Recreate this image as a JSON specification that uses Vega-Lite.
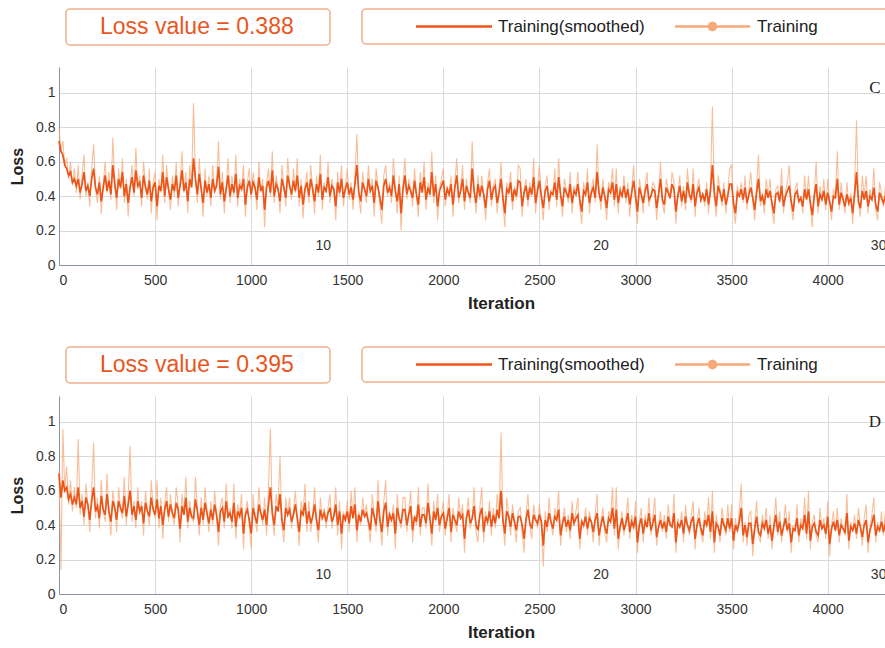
{
"$schema": "https://vega.github.io/schema/vega-lite/v6.json",
"padding": {"left": 9, "top": 8, "right": 0, "bottom": 0},
"background": "white",
"spacing": 35,
"config": {
  "view": {"fill": "#f4f4f4", "stroke": null},
  "font": "Liberation Sans",
  "axis": {"labelFont": "Liberation Sans", "labelFontSize": 14, "labelColor": "#333", "labelOverlap": false, "titleFont": "Liberation Sans", "titleFontWeight": "bold", "titleColor": "#222", "gridColor": "#d9d9d9", "gridWidth": 1, "domainColor": "#8a94a6", "ticks": false, "tickCount": 30},
  "legend": {"strokeColor": "#efae8c", "strokeWidth": 1.5, "cornerRadius": 4, "fillColor": "transparent", "labelFont": "Liberation Sans", "labelLimit": 400}
},
"datasets": {
"c": [
{"i":0,"t":0.80,"s":0.72},{"i":10,"t":0.66,"s":0.66},{"i":20,"t":0.72,"s":0.64},{"i":30,"t":0.58,"s":0.58},{"i":40,"t":0.62,"s":0.56},{"i":50,"t":0.50,"s":0.52},{"i":60,"t":0.60,"s":0.54},{"i":70,"t":0.46,"s":0.48},{"i":80,"t":0.56,"s":0.50},{"i":90,"t":0.42,"s":0.46},
{"i":100,"t":0.58,"s":0.50},{"i":110,"t":0.38,"s":0.42},{"i":120,"t":0.52,"s":0.47},{"i":130,"t":0.64,"s":0.54},{"i":140,"t":0.40,"s":0.43},{"i":150,"t":0.48,"s":0.46},{"i":160,"t":0.34,"s":0.40},{"i":170,"t":0.56,"s":0.50},{"i":180,"t":0.70,"s":0.56},{"i":190,"t":0.44,"s":0.45},
{"i":200,"t":0.36,"s":0.41},{"i":210,"t":0.52,"s":0.48},{"i":220,"t":0.30,"s":0.37},{"i":230,"t":0.46,"s":0.45},{"i":240,"t":0.60,"s":0.52},{"i":250,"t":0.42,"s":0.43},{"i":260,"t":0.54,"s":0.49},{"i":270,"t":0.38,"s":0.41},{"i":280,"t":0.74,"s":0.58},{"i":290,"t":0.48,"s":0.47},
{"i":300,"t":0.32,"s":0.39},{"i":310,"t":0.56,"s":0.50},{"i":320,"t":0.44,"s":0.45},{"i":330,"t":0.62,"s":0.54},{"i":340,"t":0.36,"s":0.40},{"i":350,"t":0.50,"s":0.47},{"i":360,"t":0.28,"s":0.36},{"i":370,"t":0.46,"s":0.45},{"i":380,"t":0.58,"s":0.51},{"i":390,"t":0.40,"s":0.42},
{"i":400,"t":0.68,"s":0.55},{"i":410,"t":0.44,"s":0.46},{"i":420,"t":0.52,"s":0.48},{"i":430,"t":0.34,"s":0.39},{"i":440,"t":0.60,"s":0.52},{"i":450,"t":0.46,"s":0.45},{"i":460,"t":0.38,"s":0.41},{"i":470,"t":0.56,"s":0.49},{"i":480,"t":0.30,"s":0.37},{"i":490,"t":0.48,"s":0.45},
{"i":500,"t":0.54,"s":0.48},{"i":510,"t":0.26,"s":0.34},{"i":520,"t":0.50,"s":0.46},{"i":530,"t":0.42,"s":0.43},{"i":540,"t":0.64,"s":0.54},{"i":550,"t":0.36,"s":0.40},{"i":560,"t":0.58,"s":0.51},{"i":570,"t":0.44,"s":0.44},{"i":580,"t":0.32,"s":0.38},{"i":590,"t":0.52,"s":0.47},
{"i":600,"t":0.40,"s":0.43},{"i":610,"t":0.60,"s":0.52},{"i":620,"t":0.34,"s":0.39},{"i":630,"t":0.48,"s":0.46},{"i":640,"t":0.66,"s":0.55},{"i":650,"t":0.42,"s":0.43},{"i":660,"t":0.54,"s":0.48},{"i":670,"t":0.30,"s":0.37},{"i":680,"t":0.58,"s":0.50},{"i":690,"t":0.46,"s":0.45},
{"i":700,"t":0.94,"s":0.62},{"i":710,"t":0.50,"s":0.50},{"i":720,"t":0.36,"s":0.41},{"i":730,"t":0.62,"s":0.53},{"i":740,"t":0.44,"s":0.44},{"i":750,"t":0.28,"s":0.36},{"i":760,"t":0.56,"s":0.49},{"i":770,"t":0.40,"s":0.42},{"i":780,"t":0.52,"s":0.47},{"i":790,"t":0.34,"s":0.39},
{"i":800,"t":0.58,"s":0.50},{"i":810,"t":0.42,"s":0.43},{"i":820,"t":0.48,"s":0.46},{"i":830,"t":0.72,"s":0.57},{"i":840,"t":0.38,"s":0.41},{"i":850,"t":0.54,"s":0.48},{"i":860,"t":0.30,"s":0.37},{"i":870,"t":0.46,"s":0.44},{"i":880,"t":0.62,"s":0.52},{"i":890,"t":0.36,"s":0.40},
{"i":900,"t":0.52,"s":0.47},{"i":910,"t":0.40,"s":0.42},{"i":920,"t":0.64,"s":0.53},{"i":930,"t":0.34,"s":0.39},{"i":940,"t":0.50,"s":0.46},{"i":950,"t":0.44,"s":0.44},{"i":960,"t":0.58,"s":0.50},{"i":970,"t":0.28,"s":0.35},{"i":980,"t":0.48,"s":0.45},{"i":990,"t":0.56,"s":0.49},
{"i":1000,"t":0.38,"s":0.41},{"i":1010,"t":0.54,"s":0.48},{"i":1020,"t":0.46,"s":0.45},{"i":1030,"t":0.32,"s":0.38},{"i":1040,"t":0.60,"s":0.51},{"i":1050,"t":0.42,"s":0.43},{"i":1060,"t":0.50,"s":0.46},{"i":1070,"t":0.22,"s":0.32},{"i":1080,"t":0.48,"s":0.45},{"i":1090,"t":0.56,"s":0.49},
{"i":1100,"t":0.40,"s":0.42},{"i":1110,"t":0.66,"s":0.55},{"i":1120,"t":0.36,"s":0.40},{"i":1130,"t":0.52,"s":0.47},{"i":1140,"t":0.44,"s":0.44},{"i":1150,"t":0.30,"s":0.37},{"i":1160,"t":0.58,"s":0.50},{"i":1170,"t":0.46,"s":0.45},{"i":1180,"t":0.34,"s":0.39},{"i":1190,"t":0.62,"s":0.52},
{"i":1200,"t":0.48,"s":0.46},{"i":1210,"t":0.38,"s":0.41},{"i":1220,"t":0.56,"s":0.49},{"i":1230,"t":0.42,"s":0.43},{"i":1240,"t":0.62,"s":0.52},{"i":1250,"t":0.34,"s":0.39},{"i":1260,"t":0.50,"s":0.46},{"i":1270,"t":0.27,"s":0.35},{"i":1280,"t":0.46,"s":0.44},{"i":1290,"t":0.54,"s":0.48},
{"i":1300,"t":0.36,"s":0.40},{"i":1310,"t":0.58,"s":0.50},{"i":1320,"t":0.44,"s":0.44},{"i":1330,"t":0.30,"s":0.37},{"i":1340,"t":0.52,"s":0.47},{"i":1350,"t":0.40,"s":0.42},{"i":1360,"t":0.64,"s":0.53},{"i":1370,"t":0.32,"s":0.38},{"i":1380,"t":0.48,"s":0.45},{"i":1390,"t":0.42,"s":0.43},
{"i":1400,"t":0.60,"s":0.51},{"i":1410,"t":0.36,"s":0.40},{"i":1420,"t":0.50,"s":0.46},{"i":1430,"t":0.44,"s":0.44},{"i":1440,"t":0.26,"s":0.34},{"i":1450,"t":0.54,"s":0.48},{"i":1460,"t":0.40,"s":0.42},{"i":1470,"t":0.58,"s":0.50},{"i":1480,"t":0.34,"s":0.39},{"i":1490,"t":0.46,"s":0.44},
{"i":1500,"t":0.56,"s":0.48},{"i":1510,"t":0.38,"s":0.41},{"i":1520,"t":0.48,"s":0.45},{"i":1530,"t":0.32,"s":0.38},{"i":1540,"t":0.52,"s":0.47},{"i":1550,"t":0.76,"s":0.58},{"i":1560,"t":0.40,"s":0.42},{"i":1570,"t":0.30,"s":0.37},{"i":1580,"t":0.54,"s":0.48},{"i":1590,"t":0.44,"s":0.44},
{"i":1600,"t":0.36,"s":0.40},{"i":1610,"t":0.58,"s":0.50},{"i":1620,"t":0.42,"s":0.43},{"i":1630,"t":0.50,"s":0.46},{"i":1640,"t":0.28,"s":0.36},{"i":1650,"t":0.56,"s":0.49},{"i":1660,"t":0.46,"s":0.45},{"i":1670,"t":0.34,"s":0.39},{"i":1680,"t":0.24,"s":0.32},{"i":1690,"t":0.52,"s":0.46},
{"i":1700,"t":0.58,"s":0.50},{"i":1710,"t":0.40,"s":0.42},{"i":1720,"t":0.48,"s":0.45},{"i":1730,"t":0.36,"s":0.40},{"i":1740,"t":0.62,"s":0.52},{"i":1750,"t":0.44,"s":0.43},{"i":1760,"t":0.30,"s":0.37},{"i":1770,"t":0.52,"s":0.47},{"i":1780,"t":0.20,"s":0.30},{"i":1790,"t":0.46,"s":0.44},
{"i":1800,"t":0.62,"s":0.52},{"i":1810,"t":0.38,"s":0.41},{"i":1820,"t":0.50,"s":0.46},{"i":1830,"t":0.44,"s":0.43},{"i":1840,"t":0.34,"s":0.39},{"i":1850,"t":0.56,"s":0.49},{"i":1860,"t":0.40,"s":0.41},{"i":1870,"t":0.28,"s":0.35},{"i":1880,"t":0.54,"s":0.48},{"i":1890,"t":0.42,"s":0.42},
{"i":1900,"t":0.60,"s":0.51},{"i":1910,"t":0.32,"s":0.38},{"i":1920,"t":0.48,"s":0.45},{"i":1930,"t":0.40,"s":0.41},{"i":1940,"t":0.66,"s":0.54},{"i":1950,"t":0.36,"s":0.40},{"i":1960,"t":0.52,"s":0.47},{"i":1970,"t":0.26,"s":0.34},{"i":1980,"t":0.44,"s":0.43},{"i":1990,"t":0.50,"s":0.46},
{"i":2000,"t":0.56,"s":0.49},{"i":2010,"t":0.34,"s":0.38},{"i":2020,"t":0.46,"s":0.44},{"i":2030,"t":0.40,"s":0.41},{"i":2040,"t":0.52,"s":0.47},{"i":2050,"t":0.28,"s":0.35},{"i":2060,"t":0.48,"s":0.45},{"i":2070,"t":0.62,"s":0.52},{"i":2080,"t":0.36,"s":0.39},{"i":2090,"t":0.44,"s":0.43},
{"i":2100,"t":0.58,"s":0.50},{"i":2110,"t":0.32,"s":0.37},{"i":2120,"t":0.50,"s":0.46},{"i":2130,"t":0.42,"s":0.42},{"i":2140,"t":0.36,"s":0.39},{"i":2150,"t":0.72,"s":0.56},{"i":2160,"t":0.44,"s":0.43},{"i":2170,"t":0.30,"s":0.36},{"i":2180,"t":0.52,"s":0.47},{"i":2190,"t":0.38,"s":0.40},
{"i":2200,"t":0.52,"s":0.46},{"i":2210,"t":0.40,"s":0.41},{"i":2220,"t":0.26,"s":0.33},{"i":2230,"t":0.48,"s":0.44},{"i":2240,"t":0.56,"s":0.49},{"i":2250,"t":0.34,"s":0.38},{"i":2260,"t":0.46,"s":0.44},{"i":2270,"t":0.50,"s":0.46},{"i":2280,"t":0.30,"s":0.36},{"i":2290,"t":0.42,"s":0.42},
{"i":2300,"t":0.60,"s":0.50},{"i":2310,"t":0.36,"s":0.39},{"i":2320,"t":0.22,"s":0.30},{"i":2330,"t":0.48,"s":0.44},{"i":2340,"t":0.42,"s":0.42},{"i":2350,"t":0.54,"s":0.48},{"i":2360,"t":0.32,"s":0.37},{"i":2370,"t":0.46,"s":0.44},{"i":2380,"t":0.38,"s":0.40},{"i":2390,"t":0.58,"s":0.49},
{"i":2400,"t":0.56,"s":0.48},{"i":2410,"t":0.28,"s":0.34},{"i":2420,"t":0.44,"s":0.42},{"i":2430,"t":0.50,"s":0.46},{"i":2440,"t":0.34,"s":0.38},{"i":2450,"t":0.48,"s":0.45},{"i":2460,"t":0.40,"s":0.41},{"i":2470,"t":0.62,"s":0.51},{"i":2480,"t":0.30,"s":0.36},{"i":2490,"t":0.46,"s":0.43},
{"i":2500,"t":0.58,"s":0.49},{"i":2510,"t":0.38,"s":0.40},{"i":2520,"t":0.26,"s":0.33},{"i":2530,"t":0.46,"s":0.43},{"i":2540,"t":0.52,"s":0.46},{"i":2550,"t":0.32,"s":0.37},{"i":2560,"t":0.44,"s":0.42},{"i":2570,"t":0.40,"s":0.41},{"i":2580,"t":0.56,"s":0.48},{"i":2590,"t":0.34,"s":0.38},
{"i":2600,"t":0.62,"s":0.51},{"i":2610,"t":0.40,"s":0.41},{"i":2620,"t":0.28,"s":0.34},{"i":2630,"t":0.50,"s":0.45},{"i":2640,"t":0.44,"s":0.42},{"i":2650,"t":0.36,"s":0.39},{"i":2660,"t":0.54,"s":0.47},{"i":2670,"t":0.30,"s":0.36},{"i":2680,"t":0.46,"s":0.43},{"i":2690,"t":0.42,"s":0.41},
{"i":2700,"t":0.54,"s":0.47},{"i":2710,"t":0.34,"s":0.38},{"i":2720,"t":0.24,"s":0.31},{"i":2730,"t":0.48,"s":0.43},{"i":2740,"t":0.40,"s":0.41},{"i":2750,"t":0.56,"s":0.48},{"i":2760,"t":0.30,"s":0.36},{"i":2770,"t":0.44,"s":0.42},{"i":2780,"t":0.50,"s":0.45},{"i":2790,"t":0.36,"s":0.39},
{"i":2800,"t":0.70,"s":0.54},{"i":2810,"t":0.42,"s":0.42},{"i":2820,"t":0.32,"s":0.37},{"i":2830,"t":0.50,"s":0.45},{"i":2840,"t":0.38,"s":0.40},{"i":2850,"t":0.26,"s":0.33},{"i":2860,"t":0.48,"s":0.44},{"i":2870,"t":0.44,"s":0.42},{"i":2880,"t":0.56,"s":0.48},{"i":2890,"t":0.34,"s":0.38},
{"i":2900,"t":0.56,"s":0.47},{"i":2910,"t":0.30,"s":0.36},{"i":2920,"t":0.46,"s":0.43},{"i":2930,"t":0.40,"s":0.40},{"i":2940,"t":0.52,"s":0.46},{"i":2950,"t":0.36,"s":0.39},{"i":2960,"t":0.48,"s":0.44},{"i":2970,"t":0.28,"s":0.35},{"i":2980,"t":0.44,"s":0.42},{"i":2990,"t":0.58,"s":0.49},
{"i":3000,"t":0.38,"s":0.40},{"i":3010,"t":0.24,"s":0.31},{"i":3020,"t":0.50,"s":0.45},{"i":3030,"t":0.42,"s":0.41},{"i":3040,"t":0.30,"s":0.36},{"i":3050,"t":0.46,"s":0.43},{"i":3060,"t":0.54,"s":0.47},{"i":3070,"t":0.34,"s":0.38},{"i":3080,"t":0.40,"s":0.40},{"i":3090,"t":0.48,"s":0.44},
{"i":3100,"t":0.46,"s":0.43},{"i":3110,"t":0.26,"s":0.33},{"i":3120,"t":0.42,"s":0.41},{"i":3130,"t":0.60,"s":0.50},{"i":3140,"t":0.36,"s":0.38},{"i":3150,"t":0.30,"s":0.35},{"i":3160,"t":0.50,"s":0.45},{"i":3170,"t":0.44,"s":0.42},{"i":3180,"t":0.38,"s":0.39},{"i":3190,"t":0.54,"s":0.47},
{"i":3200,"t":0.48,"s":0.44},{"i":3210,"t":0.24,"s":0.31},{"i":3220,"t":0.40,"s":0.40},{"i":3230,"t":0.52,"s":0.46},{"i":3240,"t":0.34,"s":0.37},{"i":3250,"t":0.46,"s":0.43},{"i":3260,"t":0.32,"s":0.36},{"i":3270,"t":0.56,"s":0.48},{"i":3280,"t":0.42,"s":0.41},{"i":3290,"t":0.36,"s":0.38},
{"i":3300,"t":0.56,"s":0.47},{"i":3310,"t":0.28,"s":0.34},{"i":3320,"t":0.44,"s":0.42},{"i":3330,"t":0.50,"s":0.45},{"i":3340,"t":0.36,"s":0.38},{"i":3350,"t":0.42,"s":0.41},{"i":3360,"t":0.34,"s":0.37},{"i":3370,"t":0.48,"s":0.44},{"i":3380,"t":0.30,"s":0.35},{"i":3390,"t":0.46,"s":0.43},
{"i":3400,"t":0.92,"s":0.58},{"i":3410,"t":0.40,"s":0.42},{"i":3420,"t":0.28,"s":0.34},{"i":3430,"t":0.52,"s":0.46},{"i":3440,"t":0.44,"s":0.42},{"i":3450,"t":0.34,"s":0.37},{"i":3460,"t":0.48,"s":0.44},{"i":3470,"t":0.30,"s":0.35},{"i":3480,"t":0.42,"s":0.40},{"i":3490,"t":0.56,"s":0.47},
{"i":3500,"t":0.58,"s":0.47},{"i":3510,"t":0.32,"s":0.36},{"i":3520,"t":0.24,"s":0.30},{"i":3530,"t":0.46,"s":0.42},{"i":3540,"t":0.40,"s":0.40},{"i":3550,"t":0.48,"s":0.44},{"i":3560,"t":0.36,"s":0.38},{"i":3570,"t":0.52,"s":0.45},{"i":3580,"t":0.32,"s":0.36},{"i":3590,"t":0.44,"s":0.41},
{"i":3600,"t":0.54,"s":0.45},{"i":3610,"t":0.38,"s":0.39},{"i":3620,"t":0.26,"s":0.32},{"i":3630,"t":0.46,"s":0.42},{"i":3640,"t":0.64,"s":0.50},{"i":3650,"t":0.34,"s":0.37},{"i":3660,"t":0.42,"s":0.40},{"i":3670,"t":0.30,"s":0.35},{"i":3680,"t":0.50,"s":0.44},{"i":3690,"t":0.40,"s":0.39},
{"i":3700,"t":0.50,"s":0.43},{"i":3710,"t":0.32,"s":0.36},{"i":3720,"t":0.24,"s":0.30},{"i":3730,"t":0.44,"s":0.41},{"i":3740,"t":0.46,"s":0.42},{"i":3750,"t":0.36,"s":0.37},{"i":3760,"t":0.56,"s":0.46},{"i":3770,"t":0.30,"s":0.34},{"i":3780,"t":0.42,"s":0.40},{"i":3790,"t":0.48,"s":0.43},
{"i":3800,"t":0.58,"s":0.46},{"i":3810,"t":0.34,"s":0.37},{"i":3820,"t":0.26,"s":0.31},{"i":3830,"t":0.44,"s":0.41},{"i":3840,"t":0.48,"s":0.43},{"i":3850,"t":0.36,"s":0.37},{"i":3860,"t":0.40,"s":0.39},{"i":3870,"t":0.30,"s":0.34},{"i":3880,"t":0.52,"s":0.44},{"i":3890,"t":0.38,"s":0.38},
{"i":3900,"t":0.52,"s":0.44},{"i":3910,"t":0.34,"s":0.36},{"i":3920,"t":0.22,"s":0.29},{"i":3930,"t":0.42,"s":0.40},{"i":3940,"t":0.60,"s":0.47},{"i":3950,"t":0.30,"s":0.34},{"i":3960,"t":0.46,"s":0.41},{"i":3970,"t":0.38,"s":0.38},{"i":3980,"t":0.50,"s":0.43},{"i":3990,"t":0.32,"s":0.35},
{"i":4000,"t":0.50,"s":0.42},{"i":4010,"t":0.36,"s":0.37},{"i":4020,"t":0.26,"s":0.31},{"i":4030,"t":0.44,"s":0.40},{"i":4040,"t":0.40,"s":0.39},{"i":4050,"t":0.66,"s":0.50},{"i":4060,"t":0.32,"s":0.35},{"i":4070,"t":0.48,"s":0.42},{"i":4080,"t":0.38,"s":0.38},{"i":4090,"t":0.30,"s":0.34},
{"i":4100,"t":0.48,"s":0.41},{"i":4110,"t":0.34,"s":0.36},{"i":4120,"t":0.42,"s":0.39},{"i":4130,"t":0.24,"s":0.30},{"i":4140,"t":0.46,"s":0.41},{"i":4150,"t":0.84,"s":0.54},{"i":4160,"t":0.36,"s":0.37},{"i":4170,"t":0.28,"s":0.33},{"i":4180,"t":0.52,"s":0.43},{"i":4190,"t":0.40,"s":0.38},
{"i":4200,"t":0.52,"s":0.43},{"i":4210,"t":0.30,"s":0.34},{"i":4220,"t":0.44,"s":0.40},{"i":4230,"t":0.38,"s":0.38},{"i":4240,"t":0.56,"s":0.45},{"i":4250,"t":0.32,"s":0.35},{"i":4260,"t":0.26,"s":0.31},{"i":4270,"t":0.48,"s":0.42},{"i":4280,"t":0.42,"s":0.39},{"i":4290,"t":0.34,"s":0.36},
{"i":4300,"t":0.46,"s":0.40},{"i":4310,"t":0.30,"s":0.34},{"i":4320,"t":0.54,"s":0.45},{"i":4330,"t":0.40,"s":0.39},{"i":4340,"t":0.36,"s":0.37},{"i":4350,"t":0.26,"s":0.31},{"i":4360,"t":0.50,"s":0.43},{"i":4370,"t":0.44,"s":0.40},{"i":4380,"t":0.32,"s":0.35},{"i":4390,"t":0.58,"s":0.46},
{"i":4400,"t":0.48,"s":0.41},{"i":4410,"t":0.32,"s":0.35},{"i":4420,"t":0.40,"s":0.38},{"i":4430,"t":0.60,"s":0.47},{"i":4440,"t":0.34,"s":0.36},{"i":4450,"t":0.44,"s":0.40},{"i":4460,"t":0.24,"s":0.30},{"i":4470,"t":0.50,"s":0.43},{"i":4480,"t":0.38,"s":0.38},{"i":4490,"t":0.46,"s":0.41},
{"i":4500,"t":0.50,"s":0.42},{"i":4510,"t":0.30,"s":0.34},{"i":4520,"t":0.42,"s":0.39},{"i":4530,"t":0.36,"s":0.37},{"i":4540,"t":0.54,"s":0.44},{"i":4550,"t":0.28,"s":0.33},{"i":4560,"t":0.46,"s":0.41},{"i":4570,"t":0.40,"s":0.39},{"i":4580,"t":0.34,"s":0.36},{"i":4590,"t":0.48,"s":0.42},
{"i":4600,"t":0.52,"s":0.43}
],
"d": [
{"i":0,"t":0.72,"s":0.70},{"i":10,"t":0.14,"s":0.56},{"i":20,"t":0.96,"s":0.66},{"i":30,"t":0.60,"s":0.60},{"i":40,"t":0.74,"s":0.62},{"i":50,"t":0.52,"s":0.55},{"i":60,"t":0.66,"s":0.58},{"i":70,"t":0.48,"s":0.52},{"i":80,"t":0.62,"s":0.56},{"i":90,"t":0.50,"s":0.52},
{"i":100,"t":0.90,"s":0.62},{"i":110,"t":0.46,"s":0.50},{"i":120,"t":0.58,"s":0.54},{"i":130,"t":0.40,"s":0.45},{"i":140,"t":0.64,"s":0.56},{"i":150,"t":0.52,"s":0.52},{"i":160,"t":0.36,"s":0.43},{"i":170,"t":0.60,"s":0.54},{"i":180,"t":0.88,"s":0.62},{"i":190,"t":0.44,"s":0.48},
{"i":200,"t":0.56,"s":0.51},{"i":210,"t":0.38,"s":0.44},{"i":220,"t":0.66,"s":0.57},{"i":230,"t":0.48,"s":0.49},{"i":240,"t":0.42,"s":0.46},{"i":250,"t":0.70,"s":0.58},{"i":260,"t":0.46,"s":0.48},{"i":270,"t":0.34,"s":0.42},{"i":280,"t":0.60,"s":0.54},{"i":290,"t":0.52,"s":0.50},
{"i":300,"t":0.36,"s":0.43},{"i":310,"t":0.62,"s":0.54},{"i":320,"t":0.50,"s":0.50},{"i":330,"t":0.44,"s":0.47},{"i":340,"t":0.68,"s":0.57},{"i":350,"t":0.40,"s":0.45},{"i":360,"t":0.56,"s":0.52},{"i":370,"t":0.86,"s":0.60},{"i":380,"t":0.42,"s":0.46},{"i":390,"t":0.54,"s":0.51},
{"i":400,"t":0.38,"s":0.43},{"i":410,"t":0.62,"s":0.54},{"i":420,"t":0.46,"s":0.48},{"i":430,"t":0.54,"s":0.51},{"i":440,"t":0.34,"s":0.41},{"i":450,"t":0.60,"s":0.53},{"i":460,"t":0.48,"s":0.48},{"i":470,"t":0.40,"s":0.45},{"i":480,"t":0.66,"s":0.56},{"i":490,"t":0.50,"s":0.49},
{"i":500,"t":0.44,"s":0.46},{"i":510,"t":0.66,"s":0.55},{"i":520,"t":0.38,"s":0.44},{"i":530,"t":0.56,"s":0.51},{"i":540,"t":0.32,"s":0.40},{"i":550,"t":0.52,"s":0.49},{"i":560,"t":0.62,"s":0.54},{"i":570,"t":0.42,"s":0.45},{"i":580,"t":0.58,"s":0.52},{"i":590,"t":0.46,"s":0.47},
{"i":600,"t":0.40,"s":0.44},{"i":610,"t":0.62,"s":0.53},{"i":620,"t":0.52,"s":0.49},{"i":630,"t":0.30,"s":0.38},{"i":640,"t":0.58,"s":0.51},{"i":650,"t":0.46,"s":0.46},{"i":660,"t":0.68,"s":0.56},{"i":670,"t":0.38,"s":0.42},{"i":680,"t":0.54,"s":0.50},{"i":690,"t":0.44,"s":0.45},
{"i":700,"t":0.42,"s":0.44},{"i":710,"t":0.68,"s":0.55},{"i":720,"t":0.50,"s":0.48},{"i":730,"t":0.34,"s":0.40},{"i":740,"t":0.56,"s":0.50},{"i":750,"t":0.40,"s":0.43},{"i":760,"t":0.62,"s":0.53},{"i":770,"t":0.48,"s":0.47},{"i":780,"t":0.36,"s":0.41},{"i":790,"t":0.54,"s":0.49},
{"i":800,"t":0.40,"s":0.43},{"i":810,"t":0.60,"s":0.52},{"i":820,"t":0.46,"s":0.46},{"i":830,"t":0.28,"s":0.36},{"i":840,"t":0.52,"s":0.48},{"i":850,"t":0.56,"s":0.50},{"i":860,"t":0.38,"s":0.42},{"i":870,"t":0.64,"s":0.54},{"i":880,"t":0.44,"s":0.45},{"i":890,"t":0.50,"s":0.47},
{"i":900,"t":0.38,"s":0.42},{"i":910,"t":0.64,"s":0.53},{"i":920,"t":0.32,"s":0.39},{"i":930,"t":0.52,"s":0.48},{"i":940,"t":0.46,"s":0.45},{"i":950,"t":0.58,"s":0.50},{"i":960,"t":0.26,"s":0.35},{"i":970,"t":0.48,"s":0.46},{"i":980,"t":0.54,"s":0.49},{"i":990,"t":0.40,"s":0.43},
{"i":1000,"t":0.26,"s":0.35},{"i":1010,"t":0.58,"s":0.50},{"i":1020,"t":0.44,"s":0.45},{"i":1030,"t":0.36,"s":0.41},{"i":1040,"t":0.62,"s":0.52},{"i":1050,"t":0.48,"s":0.47},{"i":1060,"t":0.40,"s":0.43},{"i":1070,"t":0.56,"s":0.49},{"i":1080,"t":0.34,"s":0.40},{"i":1090,"t":0.62,"s":0.52},
{"i":1100,"t":0.96,"s":0.62},{"i":1110,"t":0.44,"s":0.47},{"i":1120,"t":0.34,"s":0.40},{"i":1130,"t":0.58,"s":0.51},{"i":1140,"t":0.50,"s":0.48},{"i":1150,"t":0.80,"s":0.58},{"i":1160,"t":0.40,"s":0.43},{"i":1170,"t":0.30,"s":0.37},{"i":1180,"t":0.56,"s":0.50},{"i":1190,"t":0.46,"s":0.46},
{"i":1200,"t":0.56,"s":0.49},{"i":1210,"t":0.38,"s":0.42},{"i":1220,"t":0.48,"s":0.46},{"i":1230,"t":0.60,"s":0.52},{"i":1240,"t":0.42,"s":0.44},{"i":1250,"t":0.28,"s":0.36},{"i":1260,"t":0.54,"s":0.48},{"i":1270,"t":0.46,"s":0.46},{"i":1280,"t":0.64,"s":0.53},{"i":1290,"t":0.36,"s":0.41},
{"i":1300,"t":0.54,"s":0.48},{"i":1310,"t":0.36,"s":0.41},{"i":1320,"t":0.46,"s":0.45},{"i":1330,"t":0.62,"s":0.52},{"i":1340,"t":0.40,"s":0.43},{"i":1350,"t":0.30,"s":0.37},{"i":1360,"t":0.56,"s":0.49},{"i":1370,"t":0.44,"s":0.44},{"i":1380,"t":0.50,"s":0.47},{"i":1390,"t":0.38,"s":0.42},
{"i":1400,"t":0.50,"s":0.47},{"i":1410,"t":0.58,"s":0.50},{"i":1420,"t":0.38,"s":0.42},{"i":1430,"t":0.46,"s":0.45},{"i":1440,"t":0.62,"s":0.52},{"i":1450,"t":0.34,"s":0.40},{"i":1460,"t":0.54,"s":0.48},{"i":1470,"t":0.26,"s":0.35},{"i":1480,"t":0.48,"s":0.46},{"i":1490,"t":0.42,"s":0.43},
{"i":1500,"t":0.54,"s":0.48},{"i":1510,"t":0.36,"s":0.41},{"i":1520,"t":0.60,"s":0.51},{"i":1530,"t":0.44,"s":0.44},{"i":1540,"t":0.62,"s":0.52},{"i":1550,"t":0.30,"s":0.37},{"i":1560,"t":0.48,"s":0.46},{"i":1570,"t":0.40,"s":0.42},{"i":1580,"t":0.56,"s":0.49},{"i":1590,"t":0.46,"s":0.45},
{"i":1600,"t":0.52,"s":0.47},{"i":1610,"t":0.40,"s":0.42},{"i":1620,"t":0.30,"s":0.37},{"i":1630,"t":0.58,"s":0.50},{"i":1640,"t":0.46,"s":0.45},{"i":1650,"t":0.36,"s":0.40},{"i":1660,"t":0.66,"s":0.54},{"i":1670,"t":0.42,"s":0.43},{"i":1680,"t":0.28,"s":0.36},{"i":1690,"t":0.54,"s":0.48},
{"i":1700,"t":0.66,"s":0.53},{"i":1710,"t":0.34,"s":0.39},{"i":1720,"t":0.48,"s":0.46},{"i":1730,"t":0.42,"s":0.43},{"i":1740,"t":0.52,"s":0.47},{"i":1750,"t":0.26,"s":0.35},{"i":1760,"t":0.58,"s":0.50},{"i":1770,"t":0.44,"s":0.44},{"i":1780,"t":0.38,"s":0.41},{"i":1790,"t":0.56,"s":0.49},
{"i":1800,"t":0.56,"s":0.49},{"i":1810,"t":0.36,"s":0.40},{"i":1820,"t":0.48,"s":0.46},{"i":1830,"t":0.60,"s":0.51},{"i":1840,"t":0.30,"s":0.37},{"i":1850,"t":0.46,"s":0.45},{"i":1860,"t":0.40,"s":0.42},{"i":1870,"t":0.62,"s":0.52},{"i":1880,"t":0.34,"s":0.39},{"i":1890,"t":0.50,"s":0.46},
{"i":1900,"t":0.50,"s":0.46},{"i":1910,"t":0.38,"s":0.41},{"i":1920,"t":0.64,"s":0.53},{"i":1930,"t":0.44,"s":0.44},{"i":1940,"t":0.28,"s":0.35},{"i":1950,"t":0.54,"s":0.48},{"i":1960,"t":0.42,"s":0.43},{"i":1970,"t":0.58,"s":0.50},{"i":1980,"t":0.36,"s":0.40},{"i":1990,"t":0.46,"s":0.45},
{"i":2000,"t":0.54,"s":0.47},{"i":2010,"t":0.34,"s":0.38},{"i":2020,"t":0.46,"s":0.44},{"i":2030,"t":0.58,"s":0.50},{"i":2040,"t":0.30,"s":0.36},{"i":2050,"t":0.50,"s":0.46},{"i":2060,"t":0.42,"s":0.43},{"i":2070,"t":0.36,"s":0.40},{"i":2080,"t":0.56,"s":0.48},{"i":2090,"t":0.44,"s":0.44},
{"i":2100,"t":0.52,"s":0.46},{"i":2110,"t":0.24,"s":0.32},{"i":2120,"t":0.46,"s":0.44},{"i":2130,"t":0.56,"s":0.49},{"i":2140,"t":0.38,"s":0.41},{"i":2150,"t":0.44,"s":0.44},{"i":2160,"t":0.62,"s":0.51},{"i":2170,"t":0.36,"s":0.40},{"i":2180,"t":0.30,"s":0.37},{"i":2190,"t":0.50,"s":0.46},
{"i":2200,"t":0.62,"s":0.50},{"i":2210,"t":0.30,"s":0.36},{"i":2220,"t":0.48,"s":0.45},{"i":2230,"t":0.40,"s":0.42},{"i":2240,"t":0.54,"s":0.48},{"i":2250,"t":0.34,"s":0.39},{"i":2260,"t":0.50,"s":0.46},{"i":2270,"t":0.38,"s":0.41},{"i":2280,"t":0.58,"s":0.49},{"i":2290,"t":0.44,"s":0.44},
{"i":2300,"t":0.94,"s":0.60},{"i":2310,"t":0.42,"s":0.43},{"i":2320,"t":0.28,"s":0.35},{"i":2330,"t":0.56,"s":0.48},{"i":2340,"t":0.46,"s":0.45},{"i":2350,"t":0.34,"s":0.39},{"i":2360,"t":0.52,"s":0.47},{"i":2370,"t":0.40,"s":0.42},{"i":2380,"t":0.30,"s":0.37},{"i":2390,"t":0.48,"s":0.45},
{"i":2400,"t":0.50,"s":0.45},{"i":2410,"t":0.36,"s":0.40},{"i":2420,"t":0.24,"s":0.32},{"i":2430,"t":0.46,"s":0.43},{"i":2440,"t":0.58,"s":0.49},{"i":2450,"t":0.40,"s":0.41},{"i":2460,"t":0.32,"s":0.38},{"i":2470,"t":0.52,"s":0.46},{"i":2480,"t":0.44,"s":0.43},{"i":2490,"t":0.38,"s":0.41},
{"i":2500,"t":0.52,"s":0.46},{"i":2510,"t":0.40,"s":0.42},{"i":2520,"t":0.16,"s":0.28},{"i":2530,"t":0.48,"s":0.43},{"i":2540,"t":0.36,"s":0.39},{"i":2550,"t":0.56,"s":0.47},{"i":2560,"t":0.42,"s":0.42},{"i":2570,"t":0.34,"s":0.38},{"i":2580,"t":0.50,"s":0.45},{"i":2590,"t":0.44,"s":0.43},
{"i":2600,"t":0.60,"s":0.49},{"i":2610,"t":0.28,"s":0.34},{"i":2620,"t":0.42,"s":0.41},{"i":2630,"t":0.50,"s":0.45},{"i":2640,"t":0.36,"s":0.39},{"i":2650,"t":0.46,"s":0.43},{"i":2660,"t":0.32,"s":0.37},{"i":2670,"t":0.54,"s":0.47},{"i":2680,"t":0.40,"s":0.41},{"i":2690,"t":0.48,"s":0.44},
{"i":2700,"t":0.56,"s":0.46},{"i":2710,"t":0.26,"s":0.32},{"i":2720,"t":0.44,"s":0.42},{"i":2730,"t":0.38,"s":0.40},{"i":2740,"t":0.50,"s":0.45},{"i":2750,"t":0.34,"s":0.38},{"i":2760,"t":0.48,"s":0.44},{"i":2770,"t":0.42,"s":0.42},{"i":2780,"t":0.30,"s":0.36},{"i":2790,"t":0.46,"s":0.43},
{"i":2800,"t":0.58,"s":0.47},{"i":2810,"t":0.28,"s":0.34},{"i":2820,"t":0.42,"s":0.40},{"i":2830,"t":0.50,"s":0.45},{"i":2840,"t":0.36,"s":0.39},{"i":2850,"t":0.30,"s":0.35},{"i":2860,"t":0.48,"s":0.44},{"i":2870,"t":0.44,"s":0.42},{"i":2880,"t":0.62,"s":0.50},{"i":2890,"t":0.34,"s":0.38},
{"i":2900,"t":0.62,"s":0.49},{"i":2910,"t":0.26,"s":0.32},{"i":2920,"t":0.40,"s":0.39},{"i":2930,"t":0.48,"s":0.44},{"i":2940,"t":0.34,"s":0.37},{"i":2950,"t":0.44,"s":0.41},{"i":2960,"t":0.56,"s":0.47},{"i":2970,"t":0.32,"s":0.36},{"i":2980,"t":0.46,"s":0.42},{"i":2990,"t":0.38,"s":0.39},
{"i":3000,"t":0.54,"s":0.45},{"i":3010,"t":0.24,"s":0.30},{"i":3020,"t":0.42,"s":0.40},{"i":3030,"t":0.50,"s":0.44},{"i":3040,"t":0.30,"s":0.35},{"i":3050,"t":0.46,"s":0.42},{"i":3060,"t":0.38,"s":0.39},{"i":3070,"t":0.56,"s":0.47},{"i":3080,"t":0.34,"s":0.37},{"i":3090,"t":0.44,"s":0.41},
{"i":3100,"t":0.56,"s":0.46},{"i":3110,"t":0.28,"s":0.33},{"i":3120,"t":0.40,"s":0.39},{"i":3130,"t":0.48,"s":0.43},{"i":3140,"t":0.36,"s":0.38},{"i":3150,"t":0.46,"s":0.42},{"i":3160,"t":0.32,"s":0.36},{"i":3170,"t":0.52,"s":0.45},{"i":3180,"t":0.42,"s":0.40},{"i":3190,"t":0.38,"s":0.39},
{"i":3200,"t":0.58,"s":0.47},{"i":3210,"t":0.24,"s":0.30},{"i":3220,"t":0.44,"s":0.41},{"i":3230,"t":0.38,"s":0.39},{"i":3240,"t":0.48,"s":0.43},{"i":3250,"t":0.30,"s":0.35},{"i":3260,"t":0.52,"s":0.45},{"i":3270,"t":0.40,"s":0.40},{"i":3280,"t":0.34,"s":0.37},{"i":3290,"t":0.46,"s":0.42},
{"i":3300,"t":0.54,"s":0.45},{"i":3310,"t":0.26,"s":0.32},{"i":3320,"t":0.42,"s":0.40},{"i":3330,"t":0.50,"s":0.44},{"i":3340,"t":0.36,"s":0.38},{"i":3350,"t":0.30,"s":0.34},{"i":3360,"t":0.48,"s":0.43},{"i":3370,"t":0.40,"s":0.40},{"i":3380,"t":0.56,"s":0.46},{"i":3390,"t":0.32,"s":0.36},
{"i":3400,"t":0.60,"s":0.48},{"i":3410,"t":0.24,"s":0.30},{"i":3420,"t":0.46,"s":0.41},{"i":3430,"t":0.38,"s":0.39},{"i":3440,"t":0.30,"s":0.34},{"i":3450,"t":0.50,"s":0.44},{"i":3460,"t":0.42,"s":0.40},{"i":3470,"t":0.34,"s":0.37},{"i":3480,"t":0.52,"s":0.44},{"i":3490,"t":0.36,"s":0.38},
{"i":3500,"t":0.52,"s":0.44},{"i":3510,"t":0.26,"s":0.31},{"i":3520,"t":0.44,"s":0.40},{"i":3530,"t":0.36,"s":0.37},{"i":3540,"t":0.48,"s":0.42},{"i":3550,"t":0.64,"s":0.50},{"i":3560,"t":0.30,"s":0.34},{"i":3570,"t":0.42,"s":0.40},{"i":3580,"t":0.28,"s":0.33},{"i":3590,"t":0.46,"s":0.41},
{"i":3600,"t":0.48,"s":0.41},{"i":3610,"t":0.22,"s":0.29},{"i":3620,"t":0.40,"s":0.38},{"i":3630,"t":0.54,"s":0.45},{"i":3640,"t":0.34,"s":0.36},{"i":3650,"t":0.30,"s":0.34},{"i":3660,"t":0.46,"s":0.41},{"i":3670,"t":0.38,"s":0.38},{"i":3680,"t":0.50,"s":0.43},{"i":3690,"t":0.32,"s":0.35},
{"i":3700,"t":0.46,"s":0.40},{"i":3710,"t":0.26,"s":0.31},{"i":3720,"t":0.42,"s":0.39},{"i":3730,"t":0.56,"s":0.46},{"i":3740,"t":0.34,"s":0.36},{"i":3750,"t":0.48,"s":0.42},{"i":3760,"t":0.30,"s":0.34},{"i":3770,"t":0.40,"s":0.39},{"i":3780,"t":0.52,"s":0.44},{"i":3790,"t":0.36,"s":0.37},
{"i":3800,"t":0.48,"s":0.41},{"i":3810,"t":0.24,"s":0.30},{"i":3820,"t":0.40,"s":0.38},{"i":3830,"t":0.36,"s":0.37},{"i":3840,"t":0.52,"s":0.44},{"i":3850,"t":0.30,"s":0.34},{"i":3860,"t":0.44,"s":0.40},{"i":3870,"t":0.38,"s":0.38},{"i":3880,"t":0.56,"s":0.46},{"i":3890,"t":0.32,"s":0.35},
{"i":3900,"t":0.60,"s":0.48},{"i":3910,"t":0.26,"s":0.31},{"i":3920,"t":0.42,"s":0.39},{"i":3930,"t":0.46,"s":0.41},{"i":3940,"t":0.34,"s":0.36},{"i":3950,"t":0.30,"s":0.34},{"i":3960,"t":0.50,"s":0.43},{"i":3970,"t":0.38,"s":0.38},{"i":3980,"t":0.44,"s":0.40},{"i":3990,"t":0.32,"s":0.35},
{"i":4000,"t":0.54,"s":0.45},{"i":4010,"t":0.22,"s":0.29},{"i":4020,"t":0.40,"s":0.38},{"i":4030,"t":0.48,"s":0.42},{"i":4040,"t":0.36,"s":0.37},{"i":4050,"t":0.50,"s":0.43},{"i":4060,"t":0.30,"s":0.34},{"i":4070,"t":0.44,"s":0.40},{"i":4080,"t":0.38,"s":0.38},{"i":4090,"t":0.34,"s":0.36},
{"i":4100,"t":0.58,"s":0.47},{"i":4110,"t":0.26,"s":0.31},{"i":4120,"t":0.42,"s":0.39},{"i":4130,"t":0.36,"s":0.37},{"i":4140,"t":0.46,"s":0.41},{"i":4150,"t":0.32,"s":0.35},{"i":4160,"t":0.50,"s":0.43},{"i":4170,"t":0.40,"s":0.39},{"i":4180,"t":0.28,"s":0.33},{"i":4190,"t":0.44,"s":0.40},
{"i":4200,"t":0.52,"s":0.43},{"i":4210,"t":0.24,"s":0.30},{"i":4220,"t":0.38,"s":0.37},{"i":4230,"t":0.46,"s":0.41},{"i":4240,"t":0.56,"s":0.46},{"i":4250,"t":0.30,"s":0.34},{"i":4260,"t":0.42,"s":0.39},{"i":4270,"t":0.36,"s":0.37},{"i":4280,"t":0.48,"s":0.42},{"i":4290,"t":0.34,"s":0.36},
{"i":4300,"t":0.48,"s":0.41},{"i":4310,"t":0.26,"s":0.31},{"i":4320,"t":0.40,"s":0.38},{"i":4330,"t":0.54,"s":0.45},{"i":4340,"t":0.34,"s":0.36},{"i":4350,"t":0.44,"s":0.40},{"i":4360,"t":0.30,"s":0.34},{"i":4370,"t":0.50,"s":0.43},{"i":4380,"t":0.38,"s":0.38},{"i":4390,"t":0.62,"s":0.48},
{"i":4400,"t":0.40,"s":0.39},{"i":4410,"t":0.24,"s":0.30},{"i":4420,"t":0.46,"s":0.41},{"i":4430,"t":0.36,"s":0.37},{"i":4440,"t":0.52,"s":0.44},{"i":4450,"t":0.32,"s":0.35},{"i":4460,"t":0.42,"s":0.39},{"i":4470,"t":0.48,"s":0.42},{"i":4480,"t":0.30,"s":0.34},{"i":4490,"t":0.56,"s":0.45},
{"i":4500,"t":0.44,"s":0.40},{"i":4510,"t":0.26,"s":0.31},{"i":4520,"t":0.50,"s":0.43},{"i":4530,"t":0.38,"s":0.38},{"i":4540,"t":0.34,"s":0.36},{"i":4550,"t":0.46,"s":0.41},{"i":4560,"t":0.30,"s":0.34},{"i":4570,"t":0.52,"s":0.44},{"i":4580,"t":0.40,"s":0.39},{"i":4590,"t":0.36,"s":0.37},
{"i":4600,"t":0.46,"s":0.40}
]
},
"vconcat": [
{
  "width": 884, "height": 198,
  "layer": [
    {"data": {"name": "c"}, "mark": {"type": "line", "strokeWidth": 1.1, "opacity": 0.75, "color": "#f6a878"},
     "encoding": {
       "x": {"field": "i", "type": "quantitative", "scale": {"domain": [0, 4600], "nice": false},
             "axis": {"title": "Iteration", "values": [0,500,1000,1500,2000,2500,3000,3500,4000], "format": "d", "labelPadding": 8, "titlePadding": 8, "titleFontSize": 17}},
       "y": {"field": "t", "type": "quantitative", "scale": {"domain": [0, 1.15], "nice": false},
             "axis": {"title": "Loss", "values": [0,0.2,0.4,0.6,0.8,1], "tickCount": 20, "format": "~g", "labelPadding": 4, "titlePadding": 10, "titleFontSize": 16}},
       "strokeDash": {"datum": "Training", "type": "nominal", "scale": {"range": [[1, 0]]},
         "legend": {"orient": "none", "legendX": 607.5, "legendY": -49, "direction": "horizontal", "title": null,
           "padding": 0, "strokeColor": "transparent", "fillColor": "transparent",
           "labelFontSize": 17, "labelColor": "#222", "labelOffset": 73.5,
           "symbolSize": 100, "symbolStrokeWidth": 2.5, "symbolStrokeColor": "#f6a878", "symbolOpacity": 1,
           "symbolType": "M0,0H15M8.25,0L8.03,0.53L7.5,0.75L6.97,0.53L6.75,0L6.97,-0.53L7.5,-0.75L8.03,-0.53ZM7.9,0L7.78,0.28L7.5,0.4L7.22,0.28L7.1,0L7.22,-0.28L7.5,-0.4L7.78,-0.28Z"}}
     }},
    {"data": {"name": "c"}, "mark": {"type": "line", "strokeWidth": 1.7},
     "encoding": {
       "x": {"field": "i", "type": "quantitative", "scale": {"domain": [0, 4600], "nice": false}},
       "y": {"field": "s", "type": "quantitative", "scale": {"domain": [0, 1.15], "nice": false}},
       "color": {"datum": "Training(smoothed)", "type": "nominal", "scale": {"domain": ["Training(smoothed)"], "range": ["#ec5418"]},
         "legend": {"orient": "none", "legendX": 303, "legendY": -58, "direction": "horizontal", "title": null,
           "padding": 9, "labelFontSize": 17, "labelColor": "#222", "labelOffset": 110,
           "symbolSize": 100, "symbolStrokeWidth": 2.5, "symbolOpacity": 1, "symbolType": "M7.3,0H22.5M110,0"}}
     }},
    {"data": {"values": [{"e": "10", "i": 1375}, {"e": "20", "i": 2820}, {"e": "30", "i": 4265}]},
     "mark": {"type": "text", "fontSize": 14, "color": "#333"},
     "encoding": {"x": {"field": "i", "type": "quantitative"}, "y": {"datum": 0.11}, "text": {"field": "e"}}},
    {"data": {"values": [{"lab": "C"}]},
     "mark": {"type": "text", "font": "Liberation Serif", "fontSize": 17, "color": "#222"},
     "encoding": {"x": {"datum": 4246}, "y": {"datum": 1.03}, "text": {"field": "lab"}}},
    {"data": {"values": [{"lab": "Loss value = 0.388"}]},
     "mark": {"type": "point", "opacity": 0},
     "encoding": {"shape": {"field": "lab", "type": "nominal", "scale": {"range": ["M0,0M240,0"]},
       "legend": {"orient": "none", "legendX": 7, "legendY": -58, "title": null, "padding": 6,
         "labelFontSize": 23, "labelColor": "#e8561e", "labelOffset": 5, "symbolSize": 4, "symbolOpacity": 0}}}}
  ]
},
{
  "width": 884, "height": 198,
  "layer": [
    {"data": {"name": "d"}, "mark": {"type": "line", "strokeWidth": 1.1, "opacity": 0.75, "color": "#f6a878"},
     "encoding": {
       "x": {"field": "i", "type": "quantitative", "scale": {"domain": [0, 4600], "nice": false},
             "axis": {"title": "Iteration", "values": [0,500,1000,1500,2000,2500,3000,3500,4000], "format": "d", "labelPadding": 8, "titlePadding": 8, "titleFontSize": 17}},
       "y": {"field": "t", "type": "quantitative", "scale": {"domain": [0, 1.15], "nice": false},
             "axis": {"title": "Loss", "values": [0,0.2,0.4,0.6,0.8,1], "tickCount": 20, "format": "~g", "labelPadding": 4, "titlePadding": 10, "titleFontSize": 16}},
       "strokeDash": {"datum": "Training", "type": "nominal", "scale": {"range": [[1, 0]]},
         "legend": {"orient": "none", "legendX": 607.5, "legendY": -40, "direction": "horizontal", "title": null,
           "padding": 0, "strokeColor": "transparent", "fillColor": "transparent",
           "labelFontSize": 17, "labelColor": "#222", "labelOffset": 73.5,
           "symbolSize": 100, "symbolStrokeWidth": 2.5, "symbolStrokeColor": "#f6a878", "symbolOpacity": 1,
           "symbolType": "M0,0H15M8.25,0L8.03,0.53L7.5,0.75L6.97,0.53L6.75,0L6.97,-0.53L7.5,-0.75L8.03,-0.53ZM7.9,0L7.78,0.28L7.5,0.4L7.22,0.28L7.1,0L7.22,-0.28L7.5,-0.4L7.78,-0.28Z"}}
     }},
    {"data": {"name": "d"}, "mark": {"type": "line", "strokeWidth": 1.7},
     "encoding": {
       "x": {"field": "i", "type": "quantitative", "scale": {"domain": [0, 4600], "nice": false}},
       "y": {"field": "s", "type": "quantitative", "scale": {"domain": [0, 1.15], "nice": false}},
       "color": {"datum": "Training(smoothed)", "type": "nominal", "scale": {"domain": ["Training(smoothed)"], "range": ["#ec5418"]},
         "legend": {"orient": "none", "legendX": 303, "legendY": -49, "direction": "horizontal", "title": null,
           "padding": 9, "labelFontSize": 17, "labelColor": "#222", "labelOffset": 110,
           "symbolSize": 100, "symbolStrokeWidth": 2.5, "symbolOpacity": 1, "symbolType": "M7.3,0H22.5M110,0"}}
     }},
    {"data": {"values": [{"e": "10", "i": 1375}, {"e": "20", "i": 2820}, {"e": "30", "i": 4265}]},
     "mark": {"type": "text", "fontSize": 14, "color": "#333"},
     "encoding": {"x": {"field": "i", "type": "quantitative"}, "y": {"datum": 0.11}, "text": {"field": "e"}}},
    {"data": {"values": [{"lab": "D"}]},
     "mark": {"type": "text", "font": "Liberation Serif", "fontSize": 17, "color": "#222"},
     "encoding": {"x": {"datum": 4246}, "y": {"datum": 1.0}, "text": {"field": "lab"}}},
    {"data": {"values": [{"lab": "Loss value = 0.395"}]},
     "mark": {"type": "point", "opacity": 0},
     "encoding": {"shape": {"field": "lab", "type": "nominal", "scale": {"range": ["M0,0M240,0"]},
       "legend": {"orient": "none", "legendX": 7, "legendY": -49, "title": null, "padding": 6,
         "labelFontSize": 23, "labelColor": "#e8561e", "labelOffset": 5, "symbolSize": 4, "symbolOpacity": 0}}}}
  ]
}
],
"resolve": {"scale": {"x": "independent", "y": "independent", "color": "independent", "shape": "independent", "strokeDash": "independent"}, "legend": {"color": "independent", "shape": "independent", "strokeDash": "independent"}}
}
